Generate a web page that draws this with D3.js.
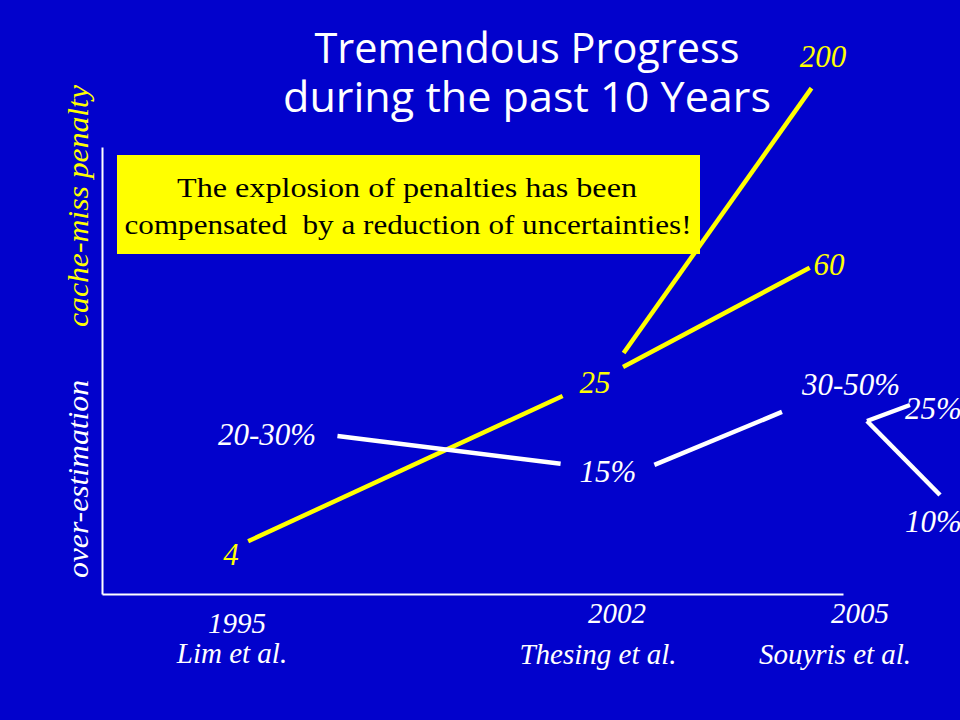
<!DOCTYPE html>
<html><head><meta charset="utf-8">
<script src="https://cdn.jsdelivr.net/npm/d3@7"></script>
<style>html,body{margin:0;padding:0;background:#0202CC;} svg{display:block}</style>
</head><body><svg id="c" width="960" height="720"></svg>
<script>
// ---------- data ----------
const years = [1995, 2002, 2005];
const authors = ["Lim et al.", "Thesing et al.", "Souyris et al."];
const penaltyLabels = ["4", "25", "60", "200"];
const penaltyValues = [4, 25, 60, 200];
const penaltyYears = [1995, 2002, 2005, 2005];
const penaltyLinks = [[0, 1], [1, 2], [1, 3]];
const overLabels = ["20-30%", "15%", "30-50%"];
const overValues = [25, 15, 40];
const overYears = [1995, 2002, 2005];
const overLinks = [[0, 1], [1, 2]];
const forkLabels = ["25%", "10%"];
const forkValues = [25, 10];
const titleLines = ["Tremendous Progress", "during the past 10 Years"];
const noteLines = ["The explosion of penalties has been", "compensated  by a reduction of uncertainties!"];
const axisTitles = ["cache-miss penalty", "over-estimation"];

// ---------- layout / style ----------
const BG = "#0202CC", YEL = "#FFFF00", WHITE = "#FFFFFF";
const serif = "'Liberation Serif','Times New Roman',serif";
const svg = d3.select("#c");
svg.append("rect").attr("width", 960).attr("height", 720).attr("fill", BG);

const xPen = d3.scaleLinear().domain(years).range([240, 608, 830]);
const yPen = d3.scaleLinear().domain([4, 25, 60, 200]).range([545, 375, 257, 62]);
const xOver = d3.scaleLinear().domain(years).range([266, 635, 830]);
const yOver = d3.scaleLinear().domain([15, 25, 40]).range([473, 427, 392]);
const forkX = d3.scaleLinear().domain([10, 25]).range([940, 910]);
const forkY = d3.scaleLinear().domain([10, 25]).range([495, 405]);
const xLab = d3.scaleLinear().domain(years).range([237, 617, 860]);

// trims (px from start, px from end) for each link
const penTrim = [[9, 50], [17, 23], [27, 32]];
const overTrim = [[72, 75], [21, 52]];
const penLabOff = [[-9, 20], [-13, 18], [-1, 18], [-7, 5]];
const overLabOff = [[1, 18], [-27, 9], [21, 3]];
const forkOrigin = [37, 29];
const forkLabOff = [[-5, 14], [-35, 37]];

function trim(a, b, t0, t1) {
  const dx = b[0] - a[0], dy = b[1] - a[1], L = Math.hypot(dx, dy);
  return [[a[0] + dx * t0 / L, a[1] + dy * t0 / L], [b[0] - dx * t1 / L, b[1] - dy * t1 / L]];
}

// ---------- title ----------
const title = svg.append("g").attr("fill", WHITE)
  .attr("font-family", "'Open Sans','DejaVu Sans',sans-serif").attr("font-size", 42);
title.selectAll("text").data(titleLines).join("text")
  .attr("x", 527).attr("y", (d, i) => [63, 112][i])
  .attr("text-anchor", "middle")
  .attr("textLength", (d, i) => [425, 488][i]).attr("lengthAdjust", "spacingAndGlyphs")
  .text(d => d);

// ---------- axes ----------
const xAxisScale = d3.scaleLinear().range([102, 843]);
const yAxisScale = d3.scaleLinear().range([594, 147]);
const gx = svg.append("g").attr("transform", "translate(0,594)")
  .call(d3.axisBottom(xAxisScale).tickValues([]).tickSizeOuter(0));
const gy = svg.append("g").attr("transform", "translate(102,0)")
  .call(d3.axisLeft(yAxisScale).tickValues([]).tickSizeOuter(0));
[gx, gy].forEach(g => g.select(".domain").attr("stroke", WHITE).attr("stroke-width", 2));

// axis titles (rotated)
svg.selectAll("text.ax").data(axisTitles).join("text").attr("class", "ax")
  .attr("transform", (d, i) => `translate(88,${[206, 479][i]}) rotate(-90)`)
  .attr("text-anchor", "middle").attr("font-family", serif).attr("font-style", "italic")
  .attr("font-size", 30).attr("fill", (d, i) => i === 0 ? YEL : WHITE)
  .attr("textLength", (d, i) => [242, 198][i]).attr("lengthAdjust", "spacingAndGlyphs")
  .text(d => d);

// year + author labels
svg.selectAll("text.yr").data(years).join("text").attr("class", "yr")
  .attr("x", d => xLab(d)).attr("y", (d, i) => [633, 623, 623][i])
  .attr("text-anchor", "middle").attr("font-family", serif).attr("font-style", "italic")
  .attr("font-size", 29).attr("fill", WHITE).text(d => d);
svg.selectAll("text.au").data(authors).join("text").attr("class", "au")
  .attr("x", (d, i) => xLab(years[i]) + [-5, -19, -25][i]).attr("y", (d, i) => [663, 664, 664][i])
  .attr("text-anchor", "middle").attr("font-family", serif).attr("font-style", "italic")
  .attr("font-size", 29).attr("fill", WHITE).text(d => d);

// ---------- penalty series (yellow) ----------
const penPts = penaltyValues.map((v, i) => [xPen(penaltyYears[i]), yPen(v)]);
svg.append("g").selectAll("line").data(penaltyLinks).join("line")
  .each(function (l, i) {
    const [s, e] = trim(penPts[l[0]], penPts[l[1]], penTrim[i][0], penTrim[i][1]);
    d3.select(this).attr("x1", s[0]).attr("y1", s[1]).attr("x2", e[0]).attr("y2", e[1]);
  })
  .attr("stroke", YEL).attr("stroke-width", 4.5);
svg.append("g").selectAll("text").data(penaltyLabels).join("text")
  .attr("x", (d, i) => penPts[i][0] + penLabOff[i][0]).attr("y", (d, i) => penPts[i][1] + penLabOff[i][1])
  .attr("text-anchor", "middle").attr("font-family", serif).attr("font-style", "italic")
  .attr("font-size", 31).attr("fill", YEL).text(d => d);

// ---------- over-estimation series (white) ----------
const overPts = overValues.map((v, i) => [xOver(overYears[i]), yOver(v)]);
svg.append("g").selectAll("line").data(overLinks).join("line")
  .each(function (l, i) {
    const [s, e] = trim(overPts[l[0]], overPts[l[1]], overTrim[i][0], overTrim[i][1]);
    d3.select(this).attr("x1", s[0]).attr("y1", s[1]).attr("x2", e[0]).attr("y2", e[1]);
  })
  .attr("stroke", WHITE).attr("stroke-width", 4.5);
svg.append("g").selectAll("text").data(overLabels).join("text")
  .attr("x", (d, i) => overPts[i][0] + overLabOff[i][0]).attr("y", (d, i) => overPts[i][1] + overLabOff[i][1])
  .attr("text-anchor", "middle").attr("font-family", serif).attr("font-style", "italic")
  .attr("font-size", 31).attr("fill", WHITE).text(d => d);

// fork (partly beyond the slide edge, as in the original)
const fo = [overPts[2][0] + forkOrigin[0], overPts[2][1] + forkOrigin[1]];
const forkPts = forkValues.map(v => [forkX(v), forkY(v)]);
svg.append("g").selectAll("line").data(forkPts).join("line")
  .attr("x1", fo[0]).attr("y1", fo[1]).attr("x2", d => d[0]).attr("y2", d => d[1])
  .attr("stroke", WHITE).attr("stroke-width", 4.5).attr("stroke-linecap", "butt");
svg.append("g").selectAll("text").data(forkLabels).join("text")
  .attr("x", (d, i) => forkPts[i][0] + forkLabOff[i][0]).attr("y", (d, i) => forkPts[i][1] + forkLabOff[i][1])
  .attr("font-family", serif).attr("font-style", "italic")
  .attr("font-size", 31).attr("fill", WHITE).text(d => d);

// ---------- note box ----------
svg.append("rect").attr("x", 117).attr("y", 155).attr("width", 583).attr("height", 99).attr("fill", YEL);
svg.append("g").selectAll("text").data(noteLines).join("text")
  .attr("x", (d, i) => [407, 408][i]).attr("y", (d, i) => [197, 234][i])
  .attr("text-anchor", "middle").attr("font-family", serif).attr("font-size", 28).attr("fill", "#000")
  .style("white-space", "pre")
  .attr("textLength", (d, i) => [460, 567][i]).attr("lengthAdjust", "spacingAndGlyphs")
  .text(d => d);
</script></body></html>
